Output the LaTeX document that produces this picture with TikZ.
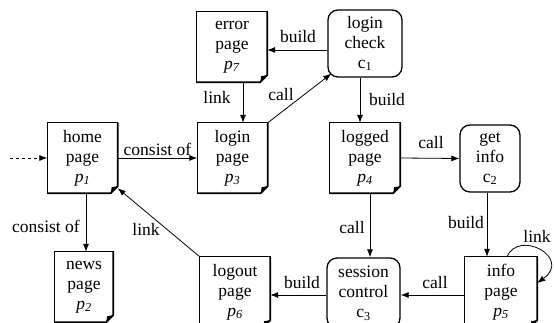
\documentclass[tikz,border=0pt]{standalone}
\usepackage{fontspec}
\setmainfont{Liberation Serif}
\usetikzlibrary{arrows.meta}
\tikzset{
  txt/.style={font=\fontsize{17.5}{20}\selectfont},
  pg/.style={txt, minimum width=70pt, minimum height=70pt, inner sep=0pt, align=center},
  cp/.style={txt, draw, line width=1.3pt, rounded corners=10pt, minimum width=74pt, minimum height=67pt, inner sep=0pt, align=center},
  arr/.style={-{Latex[length=8pt,width=6pt]}, line width=0.8pt},
  lbl/.style={txt, inner sep=1pt},
}
\newcommand{\pp}[1]{\textit{p}\textsubscript{\textit{#1}}}
\newcommand{\cc}[1]{c\textsubscript{#1}}
\begin{document}
\begin{tikzpicture}[x=1pt,y=-1pt]
\useasboundingbox (0,0) rectangle (554,323);
% pages
\node[pg] (home) at (82.5,158) {home\\page\\\pp{1}};
\node[pg] (lp) at (232.5,158) {login\\page\\\pp{3}};
\node[pg] (ep) at (232,47) {error\\page\\\pp{7}};
\node[pg] (gp) at (365,158) {logged\\page\\\pp{4}};
\node[pg, minimum width=58pt] (np) at (84,287) {news\\page\\\pp{2}};
\node[pg] (op) at (235,292) {logout\\page\\\pp{6}};
\node[pg, minimum width=72pt] (ip) at (501,292) {info\\page\\\pp{5}};
% components
\node[cp] (lc) at (365,43.5) {login\\check\\\cc{1}};
\node[cp, minimum width=60pt] (gi) at (490,158.5) {get\\info\\\cc{2}};
\node[cp, minimum width=73pt, minimum height=70pt] (sc) at (363.5,293) {session\\control\\\cc{3}};
% page outlines
\foreach \n in {home,lp,ep,gp,np,op,ip}{
  \draw[line width=1.3pt] ([xshift=-7pt]\n.south east) -- (\n.south west) -- (\n.north west) -- (\n.north east) -- ([yshift=7pt]\n.south east);
  \draw[line width=1.8pt] (\n.north east) -- ([yshift=7pt]\n.south east) -- ([xshift=-7pt]\n.south east) -- (\n.south west);
  \fill ([yshift=7pt]\n.south east) -- ([xshift=-7pt]\n.south east) -- ([shift={(-6pt,6pt)}]\n.south east) -- cycle;
}
% connectors
\coordinate (start) at (10,158);
\draw[arr, dashed] (start) -- (home.west);
\draw[arr] (home.east) -- (lp.west) node[midway, above, lbl, yshift=1pt] {consist of};
\draw[arr] ([yshift=-6.5pt]lc.west) -- ([yshift=-3pt]ep.east);
\node[lbl] (l1) at (298,37) {build};
\draw[arr] ([xshift=11pt]ep.south) -- ([xshift=10.5pt]lp.north);
\node[lbl] (l2) at (217,97) {link};
\draw[arr] (lp.north east) -- ([shift={(4pt,4pt)}]lc.south west);
\node[lbl] (l3) at (281,95) {call};
\draw[arr] ([xshift=-5pt]lc.south) -- ([xshift=-5pt]gp.north);
\node[lbl] (l4) at (387,100) {build};
\draw[arr] (gp.east) -- (gi.west);
\node[lbl] (l5) at (431,143) {call};
\draw[arr] ([xshift=5pt]gp.south) -- ([xshift=6.5pt]sc.north);
\node[lbl] (l6) at (352,228) {call};
\draw[arr] ([xshift=-3pt]gi.south) -- ([xshift=-14pt]ip.north);
\node[lbl] (l7) at (466,223) {build};
\draw[arr] ([xshift=6pt]ip.north) .. controls +(12,-28) and +(35,-25) .. ([yshift=9pt]ip.east);
\node[lbl] (l8) at (537,236) {link};
\draw[arr] ([yshift=-3pt]ip.west) -- ([yshift=-2pt]sc.east);
\node[lbl] (l9) at (435,283) {call};
\draw[arr] ([yshift=-2pt]sc.west) -- ([yshift=-3pt]op.east);
\node[lbl] (l10) at (302,283) {build};
\draw[arr] (op.north west) -- ([yshift=5pt]home.south east);
\node[lbl] (l11) at (146,229) {link};
\draw[arr] ([xshift=3.5pt]home.south) -- ([xshift=2pt]np.north);
\node[lbl] (l12) at (46,226) {consist of};
\end{tikzpicture}
\end{document}
